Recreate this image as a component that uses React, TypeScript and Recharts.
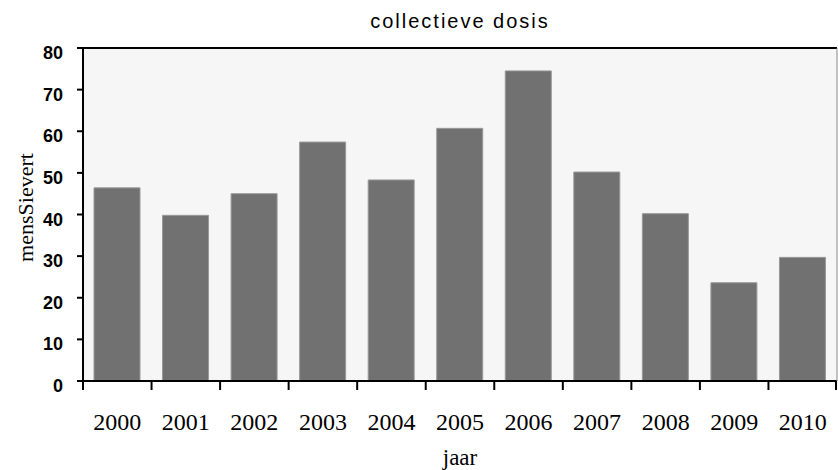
import React from 'react';
import { BarChart, Bar, XAxis, YAxis, CartesianGrid } from 'recharts';

const years = ['2000', '2001', '2002', '2003', '2004', '2005', '2006', '2007', '2008', '2009', '2010'];
const dose = [46.4, 39.8, 45.0, 57.4, 48.3, 60.7, 74.5, 50.2, 40.2, 23.6, 29.7];
const yTicks = [0, 10, 20, 30, 40, 50, 60, 70, 80];

const data = years.map((year, i) => ({ year, dose: dose[i] }));

const SERIF = '"Liberation Serif", "Times New Roman", serif';
const SANS = '"Liberation Sans", Arial, sans-serif';

const YTick = (props: any) => {
  const { x, y, payload } = props;
  return (
    <text x={x} y={y + 11} textAnchor="end" fontFamily={SANS} fontWeight="bold" fontSize={18} fill="#000">
      {payload.value}
    </text>
  );
};

// label at the band centre, tick marks at the band edges
const XTick = (props: any) => {
  const { x, y, payload, width, visibleTicksCount, index } = props;
  const half = payload.offset || width / visibleTicksCount / 2;
  const last = index === visibleTicksCount - 1;
  return (
    <g>
      <line x1={x - half} x2={x - half} y1={y} y2={y + 9} stroke="#000" strokeWidth={2} />
      {last && <line x1={x + half - 1} x2={x + half - 1} y1={y} y2={y + 9} stroke="#000" strokeWidth={2} />}
      <text x={x} y={y + 49} textAnchor="middle" fontFamily={SERIF} fontSize={24} fill="#000">
        {payload.value}
      </text>
    </g>
  );
};

const App: React.FC = () => {
  return (
    <div style={{ position: 'relative', width: 838, height: 470, background: '#fff' }}>
      <style>{'body{margin:0}'}</style>
      <div
        style={{
          position: 'absolute',
          left: 83,
          width: 754,
          top: 10,
          textAlign: 'center',
          fontFamily: SANS,
          fontSize: 20,
          lineHeight: '22px',
          letterSpacing: 2,
          color: '#000',
        }}
      >
        collectieve dosis
      </div>
      <BarChart
        width={838}
        height={470}
        data={data}
        margin={{ top: 47, right: 0, left: 0, bottom: 0 }}
        barSize={46}
      >
        <CartesianGrid fill="#f6f6f6" horizontal={false} vertical={false} />
        <XAxis
          xAxisId="top"
          orientation="top"
          dataKey="year"
          height={1}
          tick={false}
          tickLine={false}
          axisLine={{ stroke: '#000', strokeWidth: 2 }}
        />
        <XAxis
          xAxisId="cat"
          dataKey="year"
          height={89}
          tickSize={0}
          tickMargin={0}
          tickLine={false}
          axisLine={{ stroke: '#000', strokeWidth: 2 }}
          tick={<XTick />}
          interval={0}
          label={{
            content: (p: any) => {
              const vb = p.viewBox;
              return (
                <text x={vb.x + vb.width / 2} y={vb.y + 84} textAnchor="middle" fontFamily={SERIF} fontSize={23} fill="#000">
                  jaar
                </text>
              );
            },
          }}
        />
        <YAxis
          width={83}
          domain={[0, 80]}
          ticks={yTicks}
          interval={0}
          tickSize={6}
          tickMargin={14}
          axisLine={{ stroke: '#000', strokeWidth: 2 }}
          tickLine={{ stroke: '#000', strokeWidth: 2 }}
          tick={<YTick />}
          label={{
            content: (p: any) => {
              const vb = p.viewBox;
              const cx = 33;
              const cy = vb.y + vb.height / 2 - 7;
              return (
                <text
                  x={cx}
                  y={cy}
                  transform={`rotate(-90, ${cx}, ${cy})`}
                  textAnchor="middle"
                  fontFamily={SERIF}
                  fontSize={22}
                  fill="#000"
                >
                  mensSievert
                </text>
              );
            },
          }}
        />
        <YAxis
          yAxisId="right"
          orientation="right"
          width={1}
          domain={[0, 80]}
          tick={false}
          tickLine={false}
          axisLine={{ stroke: '#888', strokeWidth: 1 }}
        />
        <Bar
          xAxisId="cat"
          dataKey="dose"
          fill="#717171"
          stroke="#999"
          strokeWidth={1}
          isAnimationActive={false}
        />
      </BarChart>
    </div>
  );
};

export default App;
